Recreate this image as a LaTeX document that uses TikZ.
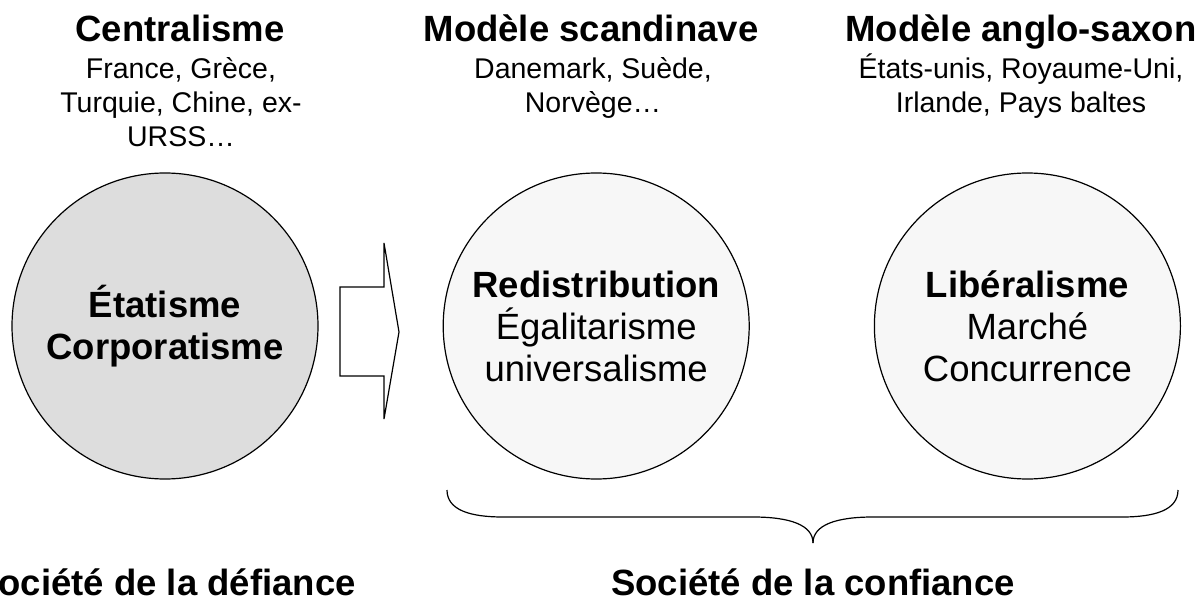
\documentclass[tikz,border=0pt]{standalone}
\usepackage{fontspec}
\setmainfont{Liberation Sans}
\usetikzlibrary{positioning}

\definecolor{statefill}{HTML}{DDDDDD}
\definecolor{trustfill}{HTML}{F7F7F7}

\tikzset{
	bubble/.style = {circle, draw, line width=1.2pt, minimum size=306pt, inner sep=0pt, align=center, font=\fontsize{36.5}{42}\selectfont},
	head/.style = {anchor=base, inner sep=0pt, font=\fontsize{36.5}{42}\selectfont\bfseries},
	countries/.style = {anchor=base, inner sep=0pt, align=center, font=\fontsize{28.5}{34}\selectfont},
	outline/.style = {draw, line width=1.2pt},
}

\begin{document}
\begin{tikzpicture}[x=1pt, y=-1pt]
		\useasboundingbox (0,0) rectangle (1202,604);

		\node [bubble, fill=statefill] (etat) at (165,326) {\textbf{Étatisme}\\\textbf{Corporatisme}};
		\node [bubble, fill=trustfill, right = 124pt of etat] (redis) {\textbf{Redistribution}\\Égalitarisme\\universalisme};
		\node [bubble, fill=trustfill, right = 124pt of redis] (liber) {\textbf{Libéralisme}\\Marché\\Concurrence};

		\node [head] (centr) at (180,42) {Centralisme};
		\node [head] (scand) at (591,42) {Modèle scandinave};
		\node [head] (anglo) at (1021,42) {Modèle anglo-saxon};

		% base of a multi-line node = its last line
		\node [countries] (fr) at (181,147) {France, Grèce,\\Turquie, Chine, ex-\\URSS…};
		\node [countries] (dk) at (593,113) {Danemark, Suède,\\Norvège…};
		\node [countries] (us) at (1021,113) {États-unis, Royaume-Uni,\\Irlande, Pays baltes};

		\draw [outline, fill=white] (340,287) -- (384,287) -- (384,243) -- (399,332) -- (384,419) -- (384,376) -- (340,376) -- cycle;

		\coordinate (tip) at (813,543);
		\draw [line width=1.2pt] (447,490) .. controls (447,510) and (470,517) .. (503,517) -- (753,517) .. controls (790,517) and (813,525) .. (tip);
		\draw [line width=1.2pt] (tip) .. controls (813,525) and (836,517) .. (873,517) -- (1122,517) .. controls (1155,517) and (1178,510) .. (1178,490);

		\node [head] (defi) at (165,595) {Société de la défiance};
		\node [head, below = 52pt of tip, anchor=base] (conf) {Société de la confiance};
	\end{tikzpicture}
\end{document}
